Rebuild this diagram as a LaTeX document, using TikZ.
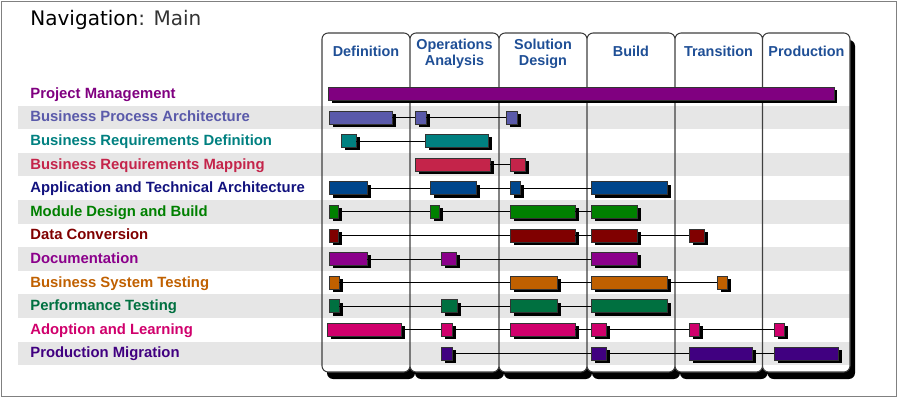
\documentclass[tikz,border=0pt]{standalone}
\usepackage{fontspec}
\setmainfont{Liberation Sans}
\newfontfamily\navfont{DejaVu Sans}
\usetikzlibrary{shadows}

\definecolor{headblue}{HTML}{1F4F96}
\definecolor{stripegray}{HTML}{E6E6E6}
\definecolor{pmcol}{HTML}{800080}
\definecolor{bpacol}{HTML}{5A5AAA}
\definecolor{brdcol}{HTML}{008080}
\definecolor{brmcol}{HTML}{C4244A}
\definecolor{atacol}{HTML}{00468C}
\definecolor{atatext}{HTML}{12127E}
\definecolor{mdbcol}{HTML}{008000}
\definecolor{dccol}{HTML}{800000}
\definecolor{doccol}{HTML}{8B008B}
\definecolor{bstcol}{HTML}{C06000}
\definecolor{ptcol}{HTML}{007040}
\definecolor{alcol}{HTML}{D0006C}
\definecolor{pmigcol}{HTML}{400080}

\begin{document}
\begin{tikzpicture}[x=0.02cm, y=-0.02cm,
            bar/.style = {draw=black!80, line width=0.4pt, inner sep=0pt,
                        minimum height=0.26cm,
                        general shadow={fill=black, shadow xshift=2pt, shadow yshift=-1.7pt}},
            link/.style = {black, line width=0.55pt},
            task/.style = {anchor=base west, inner sep=0pt,
                        font=\fontsize{8.45}{10}\selectfont\bfseries},
            phase/.style = {align=center, inner sep=0pt, text=headblue,
                        font=\fontsize{8.2}{9.3}\selectfont\bfseries}]
            \useasboundingbox (0,0) rectangle (900,399);
            \draw[gray, line width=0.6pt] (1.5,1.5) rectangle (896.5,396.5);
            % Title
            \node[anchor=base west, inner sep=0pt, font=\navfont\fontsize{11.4}{14}\selectfont] (nav) at (30,26)
                {Navigation{\color{black!80}: Main}};
            % Phase columns: shadow, paper, stripes, outline
            \fill[black, rounded corners=3.5pt] (327,40) rectangle (415,379)
                (415,40) rectangle (504,379) (504,40) rectangle (592,379)
                (592,40) rectangle (680,379) (680,40) rectangle (767.5,379)
                (767.5,40) rectangle (855,379);
            \fill[white, rounded corners=3.5pt] (322,33) rectangle (410,372)
                (410,33) rectangle (499,372) (499,33) rectangle (587,372)
                (587,33) rectangle (675,372) (675,33) rectangle (762.5,372)
                (762.5,33) rectangle (850,372);
            \fill[stripegray] (18,105.6) rectangle (849.5,129.2);
            \fill[stripegray] (18,152.8) rectangle (849.5,176.4);
            \fill[stripegray] (18,200) rectangle (849.5,223.6);
            \fill[stripegray] (18,247.2) rectangle (849.5,270.8);
            \fill[stripegray] (18,294.4) rectangle (849.5,318);
            \fill[stripegray] (18,341.6) rectangle (849.5,365.2);
            \draw[black!75, line width=0.6pt, rounded corners=3.5pt] (322,33) rectangle (410,372)
                (410,33) rectangle (499,372) (499,33) rectangle (587,372)
                (587,33) rectangle (675,372) (675,33) rectangle (762.5,372)
                (762.5,33) rectangle (850,372);
            % Phase headers
            \node[phase] (def) at (366,51.5) {Definition};
            \node[phase] (ops) at (454.5,54) {Operations\\Analysis};
            \node[phase] (sol) at (543,54) {Solution\\Design};
            \node[phase] (bld) at (631,51.5) {Build};
            \node[phase] (trn) at (718.5,51.5) {Transition};
            \node[phase] (prd) at (806.5,51.5) {Production};
            % Task labels
            \node[task, text=pmcol] (pm) at (30,98.3) {Project Management};
            \node[task, text=bpacol] (bpa) at (30,121.9) {Business Process Architecture};
            \node[task, text=brdcol] (brd) at (30,145.5) {Business Requirements Definition};
            \node[task, text=brmcol] (brm) at (30,169.1) {Business Requirements Mapping};
            \node[task, text=atatext] (ata) at (30,192.7) {Application and Technical Architecture};
            \node[task, text=mdbcol] (mdb) at (30,216.3) {Module Design and Build};
            \node[task, text=dccol] (dc) at (30,239.9) {Data Conversion};
            \node[task, text=doccol] (doc) at (30,263.5) {Documentation};
            \node[task, text=bstcol] (bst) at (30,287.1) {Business System Testing};
            \node[task, text=ptcol] (pt) at (30,310.7) {Performance Testing};
            \node[task, text=alcol] (al) at (30,334.3) {Adoption and Learning};
            \node[task, text=pmigcol] (pmig) at (30,357.9) {Production Migration};
            % Bars
            \node[bar, fill=pmcol, minimum width=10.12cm] (pm1) at (581,93.8) {};
            \node[bar, fill=bpacol, minimum width=1.25cm] (bpa1) at (360.75,117.4) {};
            \node[bar, fill=bpacol, minimum width=0.21cm] (bpa2) at (420.75,117.4) {};
            \node[bar, fill=bpacol, minimum width=0.21cm] (bpa3) at (511.75,117.4) {};
            \node[bar, fill=brdcol, minimum width=0.29cm] (brd1) at (348.75,141) {};
            \node[bar, fill=brdcol, minimum width=1.27cm] (brd2) at (456.75,141) {};
            \node[bar, fill=brmcol, minimum width=1.49cm] (brm1) at (452.75,164.6) {};
            \node[bar, fill=brmcol, minimum width=0.30cm] (brm2) at (518,164.6) {};
            \node[bar, fill=atacol, minimum width=0.76cm] (ata1) at (348.5,188.2) {};
            \node[bar, fill=atacol, minimum width=0.93cm] (ata2) at (453.25,188.2) {};
            \node[bar, fill=atacol, minimum width=0.20cm] (ata3) at (515.5,188.2) {};
            \node[bar, fill=atacol, minimum width=1.52cm] (ata4) at (629.5,188.2) {};
            \node[bar, fill=mdbcol, minimum width=0.18cm] (mdb1) at (334,211.8) {};
            \node[bar, fill=mdbcol, minimum width=0.19cm] (mdb2) at (434.75,211.8) {};
            \node[bar, fill=mdbcol, minimum width=1.29cm] (mdb3) at (542.75,211.8) {};
            \node[bar, fill=mdbcol, minimum width=0.92cm] (mdb4) at (614.5,211.8) {};
            \node[bar, fill=dccol, minimum width=0.18cm] (dc1) at (334,235.4) {};
            \node[bar, fill=dccol, minimum width=1.29cm] (dc2) at (542.75,235.4) {};
            \node[bar, fill=dccol, minimum width=0.92cm] (dc3) at (614.5,235.4) {};
            \node[bar, fill=dccol, minimum width=0.30cm] (dc4) at (697,235.4) {};
            \node[bar, fill=doccol, minimum width=0.75cm] (doc1) at (348.25,259) {};
            \node[bar, fill=doccol, minimum width=0.30cm] (doc2) at (449,259) {};
            \node[bar, fill=doccol, minimum width=0.92cm] (doc3) at (614.5,259) {};
            \node[bar, fill=bstcol, minimum width=0.19cm] (bst1) at (334.25,282.6) {};
            \node[bar, fill=bstcol, minimum width=0.94cm] (bst2) at (534,282.6) {};
            \node[bar, fill=bstcol, minimum width=1.52cm] (bst3) at (629.5,282.6) {};
            \node[bar, fill=bstcol, minimum width=0.20cm] (bst4) at (722.5,282.6) {};
            \node[bar, fill=ptcol, minimum width=0.19cm] (pt1) at (334.25,306.2) {};
            \node[bar, fill=ptcol, minimum width=0.32cm] (pt2) at (449.5,306.2) {};
            \node[bar, fill=ptcol, minimum width=0.94cm] (pt3) at (534,306.2) {};
            \node[bar, fill=ptcol, minimum width=1.52cm] (pt4) at (629.5,306.2) {};
            \node[bar, fill=alcol, minimum width=1.48cm] (al1) at (364.5,329.8) {};
            \node[bar, fill=alcol, minimum width=0.22cm] (al2) at (447,329.8) {};
            \node[bar, fill=alcol, minimum width=1.29cm] (al3) at (542.75,329.8) {};
            \node[bar, fill=alcol, minimum width=0.30cm] (al4) at (599,329.8) {};
            \node[bar, fill=alcol, minimum width=0.20cm] (al5) at (694.5,329.8) {};
            \node[bar, fill=alcol, minimum width=0.20cm] (al6) at (779.5,329.8) {};
            \node[bar, fill=pmigcol, minimum width=0.22cm] (pmig1) at (447,353.4) {};
            \node[bar, fill=pmigcol, minimum width=0.30cm] (pmig2) at (599,353.4) {};
            \node[bar, fill=pmigcol, minimum width=1.26cm] (pmig3) at (721,353.4) {};
            \node[bar, fill=pmigcol, minimum width=1.28cm] (pmig4) at (806.5,353.4) {};
            % Links between bars
            \draw[link] (bpa1.east) -- (bpa2.west) (bpa2.east) -- (bpa3.west);
            \draw[link] (brd1.east) -- (brd2.west);
            \draw[link] (brm1.east) -- (brm2.west);
            \draw[link] (ata1.east) -- (ata2.west) (ata2.east) -- (ata3.west) (ata3.east) -- (ata4.west);
            \draw[link] (mdb1.east) -- (mdb2.west) (mdb2.east) -- (mdb3.west) (mdb3.east) -- (mdb4.west);
            \draw[link] (dc1.east) -- (dc2.west) (dc2.east) -- (dc3.west) (dc3.east) -- (dc4.west);
            \draw[link] (doc1.east) -- (doc2.west) (doc2.east) -- (doc3.west);
            \draw[link] (bst1.east) -- (bst2.west) (bst2.east) -- (bst3.west) (bst3.east) -- (bst4.west);
            \draw[link] (pt1.east) -- (pt2.west) (pt2.east) -- (pt3.west) (pt3.east) -- (pt4.west);
            \draw[link] (al1.east) -- (al2.west) (al2.east) -- (al3.west) (al3.east) -- (al4.west)
                (al4.east) -- (al5.west) (al5.east) -- (al6.west);
            \draw[link] (pmig1.east) -- (pmig2.west) (pmig2.east) -- (pmig3.west) (pmig3.east) -- (pmig4.west);
        \end{tikzpicture}
\end{document}
